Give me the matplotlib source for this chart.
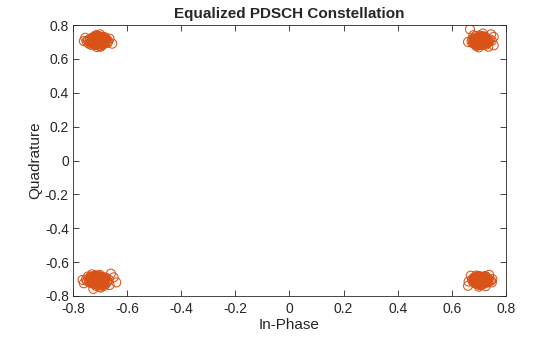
import numpy as np
import matplotlib.pyplot as plt

plt.rcParams['font.family'] = ['Liberation Sans', 'DejaVu Sans']

# equalized QPSK symbols, one I/Q list pair per constellation point
tl_i = [-0.707, -0.690, -0.725, -0.700, -0.715, -0.683, -0.731, -0.695, -0.720, -0.710,
        -0.688, -0.740, -0.702, -0.677, -0.718, -0.728, -0.694, -0.712, -0.735, -0.680,
        -0.699, -0.722, -0.705, -0.686, -0.745, -0.670, -0.716, -0.697, -0.730, -0.692,
        -0.709, -0.724, -0.684, -0.738, -0.701, -0.713, -0.675, -0.750, -0.689, -0.719,
        -0.703, -0.727, -0.696, -0.711, -0.682, -0.733, -0.706, -0.721, -0.691, -0.714,
        -0.760, -0.655, -0.665, -0.755, -0.700, -0.712, -0.742, -0.672, -0.698, -0.717,
        -0.707, -0.695, -0.719, -0.687, -0.727, -0.701, -0.713, -0.692, -0.722, -0.682,
        -0.732, -0.704, -0.716, -0.698, -0.689, -0.725, -0.685, -0.729, -0.710, -0.696,
        -0.718, -0.700, -0.714, -0.691, -0.723, -0.706, -0.683, -0.731, -0.694, -0.720,
        -0.702, -0.712, -0.688, -0.726, -0.697, -0.717, -0.703, -0.711, -0.693, -0.721]
tl_q = [0.707, 0.712, 0.700, 0.725, 0.690, 0.703, 0.715, 0.694, 0.720, 0.684,
        0.718, 0.705, 0.697, 0.711, 0.730, 0.689, 0.729, 0.708, 0.695, 0.693,
        0.701, 0.713, 0.735, 0.722, 0.710, 0.704, 0.681, 0.686, 0.724, 0.731,
        0.716, 0.692, 0.697, 0.718, 0.676, 0.740, 0.715, 0.703, 0.688, 0.726,
        0.699, 0.708, 0.714, 0.691, 0.728, 0.683, 0.721, 0.697, 0.706, 0.712,
        0.705, 0.690, 0.720, 0.725, 0.745, 0.670, 0.690, 0.695, 0.672, 0.738,
        0.722, 0.692, 0.712, 0.702, 0.727, 0.687, 0.717, 0.697, 0.707, 0.715,
        0.699, 0.729, 0.685, 0.710, 0.719, 0.695, 0.709, 0.705, 0.725, 0.689,
        0.713, 0.701, 0.732, 0.682, 0.716, 0.698, 0.721, 0.693, 0.708, 0.706,
        0.731, 0.683, 0.714, 0.700, 0.724, 0.690, 0.718, 0.696, 0.711, 0.703]

tr_i = [0.707, 0.695, 0.722, 0.701, 0.714, 0.688, 0.729, 0.698, 0.719, 0.711,
        0.684, 0.736, 0.703, 0.678, 0.717, 0.726, 0.692, 0.713, 0.733, 0.681,
        0.700, 0.721, 0.706, 0.687, 0.742, 0.673, 0.715, 0.696, 0.728, 0.693,
        0.709, 0.724, 0.685, 0.738, 0.702, 0.712, 0.676, 0.748, 0.690, 0.718,
        0.704, 0.727, 0.697, 0.710, 0.683, 0.731, 0.705, 0.720, 0.691, 0.716,
        0.667, 0.755, 0.755, 0.660, 0.745, 0.700, 0.680, 0.735, 0.715, 0.690,
        0.707, 0.719, 0.695, 0.727, 0.687, 0.713, 0.701, 0.722, 0.692, 0.732,
        0.682, 0.710, 0.698, 0.716, 0.725, 0.689, 0.729, 0.685, 0.704, 0.718,
        0.696, 0.714, 0.700, 0.723, 0.691, 0.708, 0.731, 0.683, 0.720, 0.694,
        0.712, 0.702, 0.726, 0.688, 0.717, 0.697, 0.711, 0.703, 0.721, 0.693]
tr_q = [0.707, 0.699, 0.713, 0.722, 0.692, 0.711, 0.703, 0.726, 0.688, 0.716,
        0.697, 0.709, 0.731, 0.694, 0.721, 0.684, 0.705, 0.735, 0.698, 0.718,
        0.686, 0.700, 0.727, 0.710, 0.714, 0.702, 0.693, 0.680, 0.719, 0.724,
        0.712, 0.690, 0.706, 0.701, 0.738, 0.695, 0.717, 0.708, 0.676, 0.729,
        0.704, 0.696, 0.715, 0.720, 0.689, 0.711, 0.683, 0.723, 0.700, 0.707,
        0.775, 0.730, 0.680, 0.700, 0.745, 0.668, 0.740, 0.672, 0.750, 0.735,
        0.692, 0.722, 0.702, 0.712, 0.687, 0.727, 0.697, 0.717, 0.707, 0.699,
        0.715, 0.685, 0.729, 0.704, 0.695, 0.719, 0.705, 0.709, 0.689, 0.725,
        0.701, 0.713, 0.682, 0.732, 0.698, 0.716, 0.693, 0.721, 0.706, 0.708,
        0.683, 0.731, 0.700, 0.714, 0.690, 0.724, 0.696, 0.718, 0.703, 0.711]

bl_i = [-0.707, -0.692, -0.723, -0.699, -0.716, -0.681, -0.733, -0.694, -0.721, -0.709,
        -0.686, -0.742, -0.703, -0.674, -0.719, -0.729, -0.690, -0.713, -0.737, -0.678,
        -0.700, -0.724, -0.705, -0.684, -0.748, -0.668, -0.717, -0.696, -0.731, -0.689,
        -0.710, -0.726, -0.682, -0.740, -0.701, -0.714, -0.672, -0.752, -0.687, -0.720,
        -0.704, -0.728, -0.695, -0.712, -0.679, -0.735, -0.706, -0.722, -0.691, -0.715,
        -0.640, -0.650, -0.660, -0.765, -0.760, -0.725, -0.698, -0.745, -0.665, -0.730,
        -0.702, -0.718, -0.685, -0.738,
        -0.707, -0.695, -0.719, -0.687, -0.727, -0.701, -0.713, -0.692, -0.722, -0.682,
        -0.732, -0.704, -0.716, -0.698, -0.689, -0.725, -0.685, -0.729, -0.710, -0.696,
        -0.718, -0.700, -0.714, -0.691, -0.723, -0.706, -0.683, -0.731, -0.694, -0.720,
        -0.702, -0.712, -0.688, -0.726, -0.697, -0.717, -0.703, -0.711, -0.693, -0.721]
bl_q = [-0.707, -0.713, -0.699, -0.724, -0.691, -0.704, -0.716, -0.695, -0.721, -0.685,
        -0.719, -0.706, -0.698, -0.712, -0.731, -0.688, -0.728, -0.709, -0.694, -0.693,
        -0.702, -0.714, -0.736, -0.723, -0.711, -0.703, -0.680, -0.687, -0.725, -0.732,
        -0.717, -0.691, -0.696, -0.719, -0.675, -0.741, -0.714, -0.702, -0.689, -0.727,
        -0.698, -0.709, -0.715, -0.690, -0.729, -0.684, -0.722, -0.696, -0.707, -0.713,
        -0.720, -0.690, -0.668, -0.705, -0.725, -0.758, -0.750, -0.685, -0.735, -0.672,
        -0.745, -0.678, -0.740, -0.700,
        -0.692, -0.722, -0.702, -0.712, -0.687, -0.727, -0.697, -0.717, -0.707, -0.699,
        -0.715, -0.685, -0.729, -0.704, -0.695, -0.719, -0.705, -0.709, -0.689, -0.725,
        -0.701, -0.713, -0.682, -0.732, -0.698, -0.716, -0.693, -0.721, -0.706, -0.708,
        -0.683, -0.731, -0.700, -0.714, -0.690, -0.724, -0.696, -0.718, -0.703, -0.711]

br_i = [0.707, 0.693, 0.721, 0.700, 0.713, 0.686, 0.728, 0.697, 0.718, 0.710,
        0.689, 0.734, 0.704, 0.680, 0.716, 0.725, 0.695, 0.712, 0.731, 0.683,
        0.701, 0.720, 0.706, 0.690, 0.740, 0.675, 0.714, 0.698, 0.727, 0.692,
        0.708, 0.723, 0.687, 0.736, 0.703, 0.711, 0.678, 0.745, 0.691, 0.717,
        0.705, 0.726, 0.696, 0.709, 0.684, 0.730, 0.702, 0.719, 0.694, 0.715,
        0.660, 0.662, 0.750, 0.748, 0.670, 0.738, 0.700, 0.725,
        0.707, 0.719, 0.695, 0.727, 0.687, 0.713, 0.701, 0.722, 0.692, 0.732,
        0.682, 0.710, 0.698, 0.716, 0.725, 0.689, 0.729, 0.685, 0.704, 0.718,
        0.696, 0.714, 0.700, 0.723, 0.691, 0.708, 0.731, 0.683, 0.720, 0.694,
        0.712, 0.702, 0.726, 0.688, 0.717, 0.697, 0.711, 0.703, 0.721, 0.693]
br_q = [-0.707, -0.700, -0.714, -0.721, -0.693, -0.710, -0.702, -0.725, -0.689, -0.717,
        -0.696, -0.708, -0.730, -0.695, -0.720, -0.685, -0.704, -0.733, -0.699, -0.716,
        -0.688, -0.701, -0.726, -0.711, -0.713, -0.703, -0.694, -0.682, -0.718, -0.723,
        -0.712, -0.691, -0.705, -0.700, -0.736, -0.697, -0.716, -0.709, -0.679, -0.728,
        -0.703, -0.697, -0.714, -0.719, -0.690, -0.710, -0.686, -0.722, -0.701, -0.706,
        -0.740, -0.715, -0.700, -0.720, -0.680, -0.675, -0.745, -0.742,
        -0.722, -0.692, -0.712, -0.702, -0.727, -0.687, -0.717, -0.697, -0.707, -0.715,
        -0.699, -0.729, -0.685, -0.710, -0.719, -0.695, -0.709, -0.705, -0.725, -0.689,
        -0.713, -0.701, -0.732, -0.682, -0.716, -0.698, -0.721, -0.693, -0.708, -0.706,
        -0.731, -0.683, -0.714, -0.700, -0.724, -0.690, -0.718, -0.696, -0.711, -0.703]

I = np.array(tl_i + tr_i + bl_i + br_i)
Q = np.array(tl_q + tr_q + bl_q + br_q)

dark = '#262626'
fig = plt.figure(figsize=(5.6, 3.37), dpi=100)
ax = fig.add_axes([0.1304, 0.1217, 0.773, 0.804])

ax.scatter(I, Q, s=42, facecolors='none', edgecolors='#D95319', linewidths=0.75)

ticks = np.arange(-0.8, 0.81, 0.2)
labels = ['-0.8', '-0.6', '-0.4', '-0.2', '0', '0.2', '0.4', '0.6', '0.8']
ax.set_xlim(-0.8, 0.8)
ax.set_ylim(-0.8, 0.8)
ax.set_xticks(ticks)
ax.set_yticks(ticks)
ax.set_xticklabels(labels)
ax.set_yticklabels(labels)
ax.tick_params(direction='in', top=True, right=True, length=4, width=0.6,
               colors=dark, labelsize=10)
ax.tick_params(axis='x', pad=4)
ax.tick_params(axis='y', pad=3)
for sp in ax.spines.values():
    sp.set_color(dark)
    sp.set_linewidth(0.6)

ax.set_title('Equalized PDSCH Constellation', fontsize=11, fontweight='bold', color=dark, pad=5)
ax.set_xlabel('In-Phase', fontsize=11, color=dark, labelpad=2)
ax.set_ylabel('Quadrature', fontsize=11, color=dark, labelpad=2)

fig.savefig('out.png', dpi=100)
